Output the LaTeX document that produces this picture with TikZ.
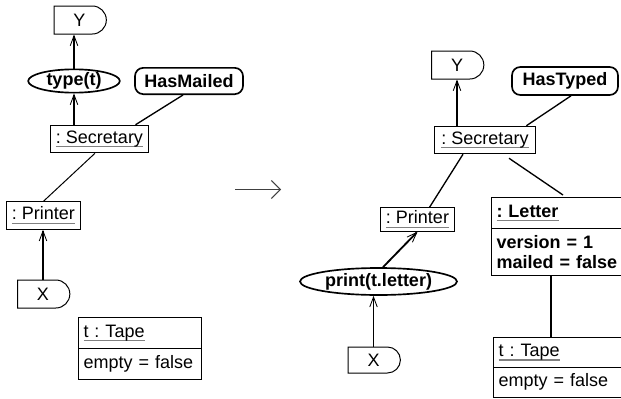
\documentclass[tikz,border=0pt]{standalone}
\usepackage{fontspec}
\setmainfont{Liberation Sans}
\usetikzlibrary{arrows.meta,shapes.geometric,shapes.misc,shapes.multipart}
\frenchspacing

\newcommand{\objul}[1]{\setbox0\hbox{#1}\rlap{\color{gray}\rule[-2.6pt]{\wd0}{1pt}}\box0}

\begin{document}
\begin{tikzpicture}[x=0.6pt,y=-0.6pt,font=\fontsize{10.8}{11.8}\selectfont]
  \tikzstyle{obj}=[draw,line width=0.6pt,inner xsep=3pt,inner ysep=0pt,minimum height=16.5pt]
  \tikzstyle{act}=[draw,ellipse,line width=1pt,inner sep=-3pt,font=\fontsize{10.8}{11.8}\selectfont\bfseries]
  \tikzstyle{cond}=[draw,rounded corners=5pt,line width=1pt,inner xsep=3pt,minimum height=15.8pt,font=\fontsize{10.8}{11.8}\selectfont\bfseries]
  \tikzstyle{res}=[draw,rounded rectangle,rounded rectangle west arc=none,line width=0.6pt,minimum width=38pt,minimum height=16.8pt]
  \tikzstyle{attr}=[draw,rectangle split,rectangle split parts=2,line width=0.6pt,align=left,text width=68pt,inner xsep=3pt,inner ysep=3.6pt,anchor=north west]
  \tikzstyle{flow}=[line width=1.1pt,-{Straight Barb[length=6pt,width=4.5pt,line width=0.5pt]}]
  \tikzstyle{link}=[line width=0.8pt]
  \useasboundingbox (0,0) rectangle (621,398);

  % before
  \node[res] (y_1) at (79.5,20) {Y};
  \node[act,minimum width=55pt,minimum height=14pt] (type_1) at (74,81) {type(t)};
  \node[cond,minimum width=64.8pt] (hm_1) at (189,81) {HasMailed};
  \node[obj] (sec_1) at (99.5,139) {\objul{: Secretary}};
  \node[obj] (pr_1) at (43.5,215.5) {\objul{: Printer}};
  \node[res] (x_1) at (43,294) {X};
  \node[attr,inner ysep=4pt] (tp_1) at (78,317) {\objul{t : Tape}\nodepart{two}empty = false};

  \draw[flow] (sec_1.north -| type_1) -- (type_1);
  \draw[flow] (type_1) -- (type_1 |- y_1.south);
  \draw[link] ([shift={(-13,0)}]sec_1.north east) -- ([shift={(-6,0)}]hm_1.south);
  \draw[line width=0.6pt] ([shift={(-4.5,0)}]sec_1.south) -- (pr_1.north);
  \draw[flow] (x_1.north) -- (x_1.north |- pr_1.south);

  % rewrite step
  \coordinate (from) at (235,189.5);
  \coordinate (to) at (281,189.5);
  \draw[line width=0.9pt,black!75,-{Straight Barb[length=5.4pt,width=10.8pt,line width=0.6pt]}] (from) -- (to);

  % after
  \node[res] (y_2) at (457,65) {Y};
  \node[cond,minimum width=63.6pt,minimum height=16.8pt] (ht_2) at (565,81) {HasTyped};
  \node[obj,minimum width=61pt] (sec_2) at (485,140) {\objul{: Secretary}};
  \node[obj,minimum height=14pt] (pr_2) at (417.5,219.5) {\objul{: Printer}};
  \node[act,minimum width=94.2pt,minimum height=16.2pt] (print_2) at (378.5,281.5) {print(t.letter)};
  \node[res,minimum height=15.6pt] (x_2) at (373.5,360) {X};
  \node[attr,text width=74pt,inner ysep=4pt,font=\fontsize{10.8}{11.8}\selectfont\bfseries] (lt_2) at (491,197)
    {\objul{: Letter}\nodepart{two}version = 1\\mailed = false};
  \node[attr,text width=74pt] (tp_2) at (493,337) {\objul{t : Tape}\nodepart{two}empty = false};

  \draw[flow] (sec_2.north -| y_2) -- (y_2);
  \draw[link] ([shift={(-10,0)}]sec_2.north east) -- ([shift={(6,0)}]ht_2.south);
  \draw[link] ([shift={(-22,0)}]sec_2.south) -- ([shift={(12,0)}]pr_2.north);
  \draw[link] ([shift={(24,4)}]sec_2.south) -- ([shift={(72,-2)}]lt_2.north west);
  \draw[flow] ([shift={(4.5,0)}]print_2.north) -- (pr_2.south);
  \draw[flow] (x_2.north) -- (x_2.north |- print_2.south);
  \draw[link] ([shift={(60,0)}]lt_2.south west) -- ([shift={(60,0)}]lt_2.south west |- tp_2.north);
\end{tikzpicture}
\end{document}
